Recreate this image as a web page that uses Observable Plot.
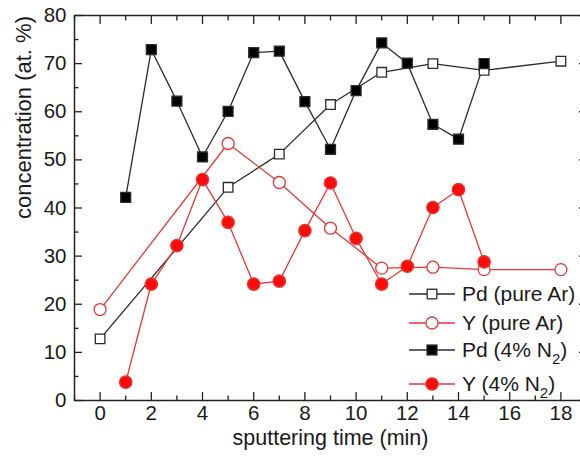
<!DOCTYPE html>
<html><head><meta charset="utf-8">
<script src="https://cdn.jsdelivr.net/npm/d3@7"></script>
<script src="https://cdn.jsdelivr.net/npm/@observablehq/plot@0.6"></script>
<style>
body{margin:0;background:#fff;}
#wrap{position:relative;width:580px;height:461px;overflow:hidden;font-family:"Liberation Sans",Arial,sans-serif;color:#1a1a1a;}
#legend{position:absolute;left:409px;top:0;width:180px;height:461px;pointer-events:none;}
.row{position:absolute;left:0;display:flex;align-items:center;height:24px;font-size:21px;white-space:nowrap;}
.row svg{margin-right:7px;}
.row sub{font-size:15px;vertical-align:-7px;line-height:0;}
</style></head><body><div id="wrap"><div id="legend"></div></div>
<script>
// data
const timeAr = [0, 5, 7, 9, 11, 13, 15, 18];
const pdAr   = [12.8, 44.3, 51.2, 61.5, 68.2, 70.0, 68.6, 70.5];
const yAr    = [18.9, 53.4, 45.3, 35.8, 27.5, 27.7, 27.2, 27.2];
const timeN2 = [1, 2, 3, 4, 5, 6, 7, 8, 9, 10, 11, 12, 13, 14, 15];
const pdN2   = [42.2, 72.9, 62.2, 50.6, 60.1, 72.3, 72.6, 62.1, 52.2, 64.4, 74.3, 70.1, 57.4, 54.3, 70.0];
const yN2    = [3.8, 24.2, 32.2, 45.9, 37.0, 24.2, 24.8, 35.3, 45.2, 33.7, 24.2, 27.9, 40.1, 43.8, 28.8];
const seriesNames = ["Pd (pure Ar)", "Y (pure Ar)", "Pd (4% N<sub>2</sub>)", "Y (4% N<sub>2</sub>)"];
const xMajor = [0, 2, 4, 6, 8, 10, 12, 14, 16, 18];
const xMinor = [-1, 1, 3, 5, 7, 9, 11, 13, 15, 17, 19];
const yMajor = [0, 10, 20, 30, 40, 50, 60, 70, 80];
const yMinor = [5, 15, 25, 35, 45, 55, 65, 75];
const xTitle = "sputtering time (min)";
const yTitle = "concentration (at. %)";

const BLACK = "#2b2b2b", RED = "#e53935", RED_FILL = "#ff0a0a";
const rows = (xs, vs) => xs.map((t, i) => ({t, v: vs[i]}));
const dAr = rows(timeAr, pdAr), dYAr = rows(timeAr, yAr);
const dN2 = rows(timeN2, pdN2), dYN2 = rows(timeN2, yN2);

const styles = [
  {stroke: BLACK, fill: "white", symbol: "square", r: 5.4, data: dAr},
  {stroke: RED, fill: "white", symbol: "circle", r: 6, data: dYAr},
  {stroke: BLACK, fill: "black", symbol: "square", r: 5.6, data: dN2},
  {stroke: RED, fill: RED_FILL, symbol: "circle", r: 6.2, data: dYN2}
];

const AX = "#222";
const chart = Plot.plot({
  width: 580, height: 461,
  marginLeft: 74, marginRight: -6, marginTop: 15, marginBottom: 61,
  style: {fontFamily: "'Liberation Sans', Arial, sans-serif", fontSize: "20px", color: "#1a1a1a", background: "white"},
  x: {domain: [-1, 19]},
  y: {domain: [0, 80]},
  marks: [
    Plot.frame({stroke: AX, strokeWidth: 1.5}),
    Plot.axisY({ticks: yMajor, tickSize: 0, tickPadding: 8, tickFormat: d3.format("d"), label: null, fontSize: 20.5}),
    Plot.axisY({ticks: yMajor, tickSize: -8, fill: "none", stroke: AX, strokeWidth: 1.3, label: null}),
    Plot.axisY({ticks: yMinor, tickSize: -4.5, fill: "none", stroke: AX, strokeWidth: 1.3, label: null}),
    Plot.axisY({anchor: "right", ticks: yMajor, tickSize: -8, fill: "none", stroke: AX, strokeWidth: 1.3, label: null}),
    Plot.axisY({anchor: "right", ticks: yMinor, tickSize: -4.5, fill: "none", stroke: AX, strokeWidth: 1.3, label: null}),
    Plot.axisX({ticks: xMajor, tickSize: 0, tickPadding: 5, tickFormat: d3.format("d"), label: null, fontSize: 20.5}),
    Plot.axisX({ticks: xMajor, tickSize: -8, fill: "none", stroke: AX, strokeWidth: 1.3, label: null}),
    Plot.axisX({ticks: xMinor, tickSize: -4.5, fill: "none", stroke: AX, strokeWidth: 1.3, label: null}),
    Plot.axisX({anchor: "top", ticks: xMajor, tickSize: -8, fill: "none", stroke: AX, strokeWidth: 1.3, label: null}),
    Plot.axisX({anchor: "top", ticks: xMinor, tickSize: -4.5, fill: "none", stroke: AX, strokeWidth: 1.3, label: null}),
    Plot.text([xTitle], {frameAnchor: "bottom", dy: 44, fontSize: 21.5, fill: "#1a1a1a"}),
    Plot.text([yTitle], {frameAnchor: "left", dx: -51, dy: 11, rotate: -90, fontSize: 22, fill: "#1a1a1a"}),
    ...styles.map(s => Plot.line(s.data, {x: "t", y: "v", stroke: s.stroke, strokeWidth: 1.3})),
    ...styles.map(s => Plot.dot(s.data, {x: "t", y: "v", symbol: s.symbol, r: s.r, stroke: s.stroke, fill: s.fill, strokeWidth: 1.3}))
  ]
});
document.getElementById("wrap").prepend(chart);

// legend overlay
const legendY = [294, 323, 350, 384];
const legend = document.getElementById("legend");
styles.forEach((s, i) => {
  const row = document.createElement("div");
  row.className = "row";
  row.style.top = (legendY[i] - 12) + "px";
  const r = s.r;
  const marker = s.symbol === "square"
    ? `<rect x="${23 - r * 0.886}" y="${12 - r * 0.886}" width="${r * 1.772}" height="${r * 1.772}" fill="${s.fill}" stroke="${s.stroke}" stroke-width="1.3"/>`
    : `<circle cx="23" cy="12" r="${r}" fill="${s.fill}" stroke="${s.stroke}" stroke-width="1.3"/>`;
  row.innerHTML = `<svg width="46" height="24"><line x1="0" x2="46" y1="12" y2="12" stroke="${s.stroke}" stroke-width="1.3"/>${marker}</svg><span>${seriesNames[i]}</span>`;
  legend.appendChild(row);
});
</script></body></html>
